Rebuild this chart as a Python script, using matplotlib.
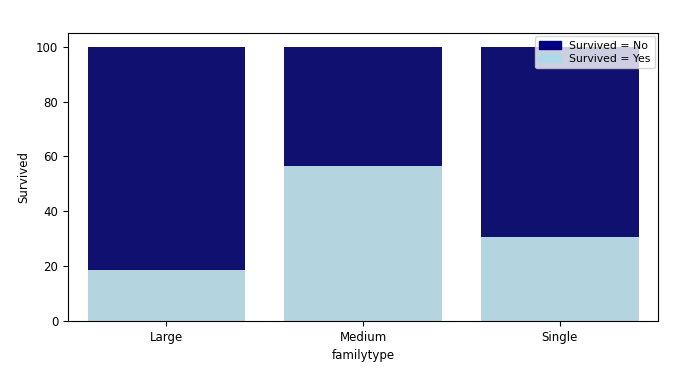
import matplotlib
matplotlib.use("Agg")
import matplotlib.pyplot as plt
import matplotlib.patches as mpatches
import seaborn as sns

familytype = ["Large", "Medium", "Single"]
total_pct = [100, 100, 100]
survived_pct = [18.5, 56.4, 30.5]

plt.rcParams['font.size'] = 8.5

fig = plt.figure(figsize=(6.9, 3.7), dpi=100)
ax = fig.add_axes([0.0986, 0.132, 0.8554, 0.779])

# total bar behind, survived bar in front (seaborn style)
sns.barplot(x=familytype, y=total_pct, color="navy", ax=ax)
sns.barplot(x=familytype, y=survived_pct, color="lightblue", ax=ax)

top_bar = mpatches.Patch(color="navy", label="Survived = No")
bottom_bar = mpatches.Patch(color="lightblue", label="Survived = Yes")
ax.legend(handles=[top_bar, bottom_bar], loc="upper right", borderaxespad=0.3,
          handlelength=2.0, labelspacing=0.3, fontsize=7.8)

ax.set_xlabel("familytype")
ax.set_ylabel("Survived")

fig.savefig("out.png", dpi=100)
